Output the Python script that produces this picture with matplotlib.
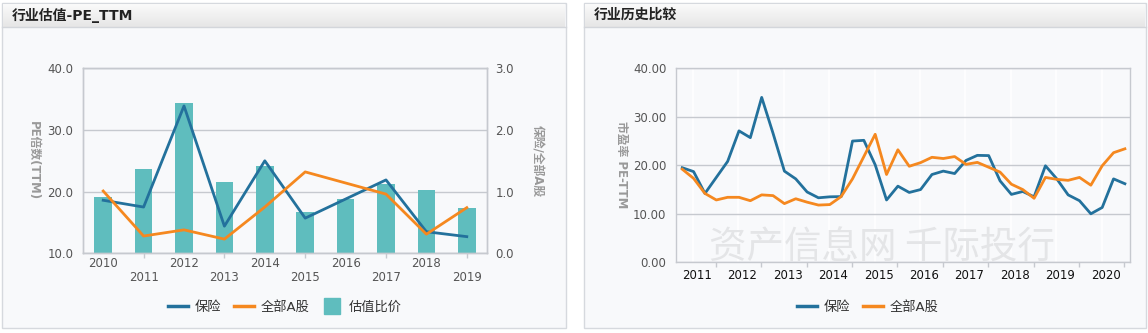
import matplotlib
matplotlib.use("Agg")
import matplotlib.pyplot as plt
import numpy as np
from matplotlib.patches import Rectangle
from matplotlib.lines import Line2D
from matplotlib.colors import LinearSegmentedColormap
from matplotlib.ticker import FormatStrFormatter

plt.rcParams['font.family'] = ['DejaVu Sans', 'Noto Sans CJK SC']

# left chart: yearly PE and the ratio
years = ['2010', '2011', '2012', '2013', '2014', '2015', '2016', '2017', '2018', '2019']
ins_pe = [18.6, 17.5, 33.9, 14.4, 25.0, 15.7, 18.8, 21.9, 13.5, 12.7]
all_pe = [20.1, 12.8, 13.8, 12.3, 17.5, 23.2, 21.4, 19.6, 13.1, 17.4]
ratio = [0.92, 1.36, 2.43, 1.16, 1.42, 0.67, 0.88, 1.12, 1.03, 0.73]

# right chart: quarterly PE 2011-2020
hist_years = ['2011', '2012', '2013', '2014', '2015', '2016', '2017', '2018', '2019', '2020']
hist_ins = [19.5, 18.7, 14.2, 17.5, 20.8, 27.1, 25.7, 34.0, 26.6, 18.8,
            17.2, 14.5, 13.3, 13.5, 13.55, 25.0, 25.15, 20.1, 12.85, 15.7,
            14.4, 15.0, 18.1, 18.8, 18.3, 21.0, 22.05, 22.0, 16.8, 14.0,
            14.6, 13.5, 19.9, 17.2, 13.9, 12.7, 10.0, 11.3, 17.2, 16.2]
hist_all = [19.2, 17.3, 14.2, 12.85, 13.4, 13.4, 12.7, 13.9, 13.75, 12.1,
            13.1, 12.4, 11.8, 11.9, 13.55, 17.2, 21.8, 26.4, 18.1, 23.2,
            19.8, 20.55, 21.65, 21.4, 21.8, 20.2, 20.6, 19.6, 18.6, 16.1,
            15.0, 13.2, 17.5, 17.1, 16.9, 17.5, 15.9, 19.9, 22.6, 23.4]

BLUE = '#23719c'
ORANGE = '#f5881f'
TEAL = '#5fbdbe'
BG = '#f8f9fb'
GRID = '#c6c9cf'

W, H = 1148, 333
fig = plt.figure(figsize=(W / 100, H / 100), dpi=100)
fig.patch.set_facecolor('white')


def fx(px):
    return px / W


def fy(py):
    return 1 - py / H


bar_cmap = LinearSegmentedColormap.from_list('bar', ['#fbfbfb', '#e6e6e6'])


def panel(x0, x1, title):
    fig.patches.append(Rectangle((fx(x0), fy(328)), fx(x1 - x0), 325 / H,
                                 transform=fig.transFigure, facecolor=BG,
                                 edgecolor='#d6d9de', lw=1, zorder=-5))
    tb = fig.add_axes([fx(x0 + 1), fy(27), fx(x1 - x0 - 2), 23.5 / H])
    tb.set_zorder(1)
    tb.imshow(np.linspace(0, 1, 40).reshape(-1, 1), aspect='auto', cmap=bar_cmap,
              extent=[0, 1, 0, 1])
    tb.axis('off')
    fig.add_artist(Line2D([fx(x0), fx(x1)], [fy(27), fy(27)], color='#d3d6db', lw=1, zorder=3))
    fig.text(fx(x0 + 10), fy(15), title, fontsize=10, fontweight='bold',
             color='#222222', va='center', ha='left', zorder=3)


panel(2, 566, '行业估值-PE_TTM')
panel(584, 1146, '行业历史比较')

# ---------- left chart ----------
x = np.arange(len(years))
axL = fig.add_axes([fx(83), fy(253.3), fx(404), 185 / H])
axR = axL.twinx()
axR.set_zorder(1)
axL.set_zorder(2)
axL.patch.set_visible(False)
axR.patch.set_visible(True)
axR.patch.set_facecolor(BG)

axR.bar(x, ratio, width=0.44, color=TEAL, zorder=2)
axR.set_ylim(0, 3)
axR.set_yticks([0, 1, 2, 3])
axR.yaxis.set_major_formatter(FormatStrFormatter('%.1f'))
axR.yaxis.grid(True, color=GRID, lw=1)
axR.set_axisbelow(True)
axR.tick_params(axis='y', length=0, pad=6, labelsize=8.5, labelcolor='#555555')

axL.plot(x, ins_pe, color=BLUE, lw=2)
axL.plot(x, all_pe, color=ORANGE, lw=2)
axL.set_ylim(10, 40)
axL.set_yticks([10, 20, 30, 40])
axL.yaxis.set_major_formatter(FormatStrFormatter('%.1f'))
axL.tick_params(axis='y', length=0, pad=7, labelsize=8.5, labelcolor='#555555')
axL.set_xlim(-0.5, 9.5)
axL.set_xticks(x[::2])
axL.set_xticklabels(years[::2])
axL.set_xticks(x[1::2], minor=True)
axL.set_xticklabels(years[1::2], minor=True)
axL.tick_params(axis='x', which='major', length=0, pad=3, labelsize=8.5, labelcolor='#555555')
axL.tick_params(axis='x', which='minor', length=3.6, width=1, color=GRID, pad=9,
                labelsize=8.5, labelcolor='#555555')
for a in (axL, axR):
    for s in a.spines.values():
        s.set_color(GRID)
        s.set_linewidth(1)

fig.text(fx(33), fy(161), 'PE倍数(TTM)', rotation=270, fontsize=8.5, fontweight='bold',
         color='#999999', ha='center', va='center')
fig.text(fx(537), fy(161), '保险/全部A股', rotation=270, fontsize=8.5, fontweight='bold',
         color='#999999', ha='center', va='center')

hL = [Line2D([], [], color=BLUE, lw=2.5),
      Line2D([], [], color=ORANGE, lw=2.5),
      Line2D([], [], color=TEAL, marker='s', markersize=11, lw=0)]
fig.legend(hL, ['保险', '全部A股', '估值比价'], loc='center', bbox_to_anchor=(fx(285), fy(307)),
           ncol=3, frameon=False, fontsize=9.5, handlelength=1.5, handletextpad=0.5,
           columnspacing=1.0, labelcolor='#333333')

# ---------- right chart ----------
q = np.arange(len(hist_ins))
ax = fig.add_axes([fx(676), fy(262.3), fx(454), 194 / H])
ax.set_zorder(1)
ax.set_facecolor(BG)
for j in range(len(hist_years)):
    ax.axvline(4 * j + 0.95, color='white', lw=1.2, zorder=0.5)
ax.plot(q, hist_ins, color=BLUE, lw=2, zorder=3)
ax.plot(q, hist_all, color=ORANGE, lw=2, zorder=3)
ax.set_xlim(-0.55, 39.45)
ax.set_ylim(0, 40)
ax.set_yticks([0, 10, 20, 30, 40])
ax.yaxis.set_major_formatter(FormatStrFormatter('%.2f'))
ax.yaxis.grid(True, color=GRID, lw=1)
ax.set_axisbelow(True)
ax.tick_params(axis='y', length=0, pad=7, labelsize=8.5, labelcolor='#555555')
yr = np.arange(len(hist_years))
ax.set_xticks(4 * yr + 2.95)
ax.set_xticklabels([])
ax.set_xticks(4 * yr + 1.3, minor=True)
ax.set_xticklabels(hist_years, minor=True)
ax.tick_params(axis='x', which='major', length=3.6, width=1, color=GRID)
ax.tick_params(axis='x', which='minor', length=0, pad=5, labelsize=8.5, labelcolor='#111111')
for s in ax.spines.values():
    s.set_color(GRID)
    s.set_linewidth(1)

ax.text(0.454, 0.075, '资产信息网 千际投行', transform=ax.transAxes, fontsize=27,
        family='Noto Sans CJK SC', color='#e4e5e7', ha='center', va='center',
        zorder=1, clip_on=False)

fig.text(fx(621), fy(165), '市盈率 PE-TTM', rotation=270, fontsize=8.5, fontweight='bold',
         color='#999999', ha='center', va='center')

hR = [Line2D([], [], color=BLUE, lw=2.5), Line2D([], [], color=ORANGE, lw=2.5)]
fig.legend(hR, ['保险', '全部A股'], loc='center', bbox_to_anchor=(fx(868), fy(307)),
           ncol=2, frameon=False, fontsize=9.5, handlelength=1.5, handletextpad=0.5,
           columnspacing=1.0, labelcolor='#333333')

fig.savefig('out.png', dpi=100, facecolor='white')
